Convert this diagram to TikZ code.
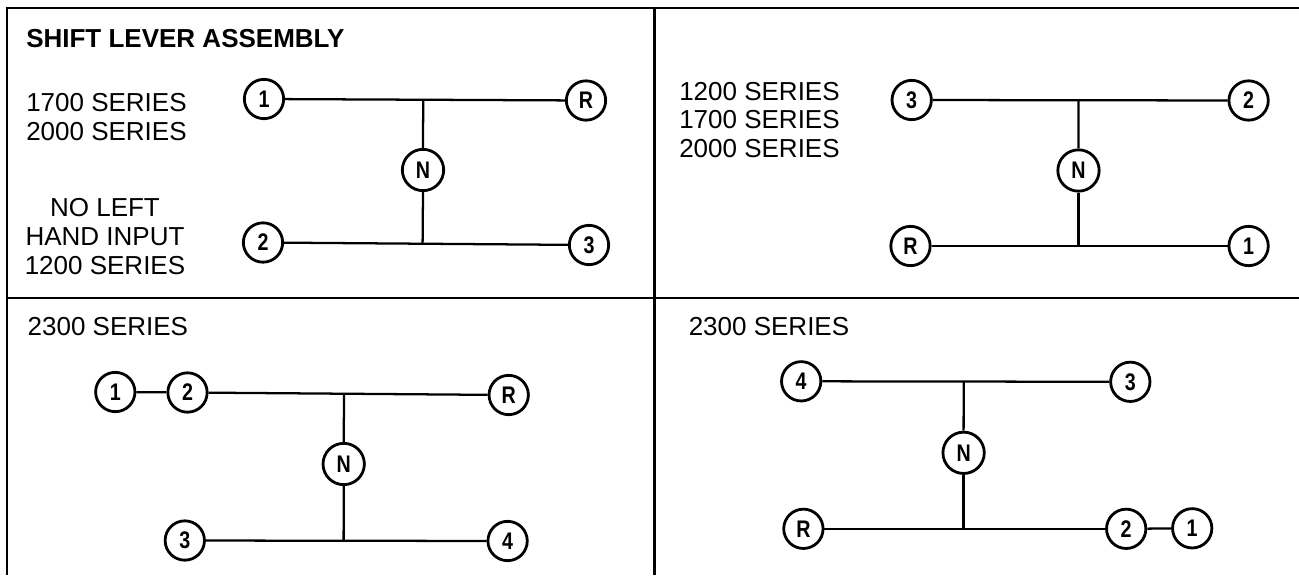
\documentclass[tikz,border=0pt]{standalone}
\usepackage{fontspec}
\usepackage{graphicx}
\setmainfont{Liberation Sans}
\usetikzlibrary{calc}
\newcommand{\clab}[1]{\scalebox{0.82}[1]{#1}}
\begin{document}
\begin{tikzpicture}[x=0.75pt,y=-0.75pt,
  gearpos/.style={circle,draw,line width=2.1pt,minimum size=29.5pt,inner sep=0pt,
    font=\fontsize{18pt}{20pt}\selectfont\bfseries},
  gearneut/.style={gearpos,minimum size=31pt},
  lbl/.style={anchor=base west,inner sep=0pt,font=\fontsize{19.5pt}{21.75pt}\selectfont},
  lblc/.style={lbl,anchor=base},
  ttl/.style={lbl,font=\fontsize{19.5pt}{21.75pt}\selectfont\bfseries},
  framing/.style={line width=1.9pt},
  gate/.style={line width=1.7pt}]
\useasboundingbox (0,0) rectangle (1299,575);
% frame
\coordinate (tl) at (7,8);
\coordinate (tr) at (1299,8);
\coordinate (bl) at (7,575);
\coordinate (mt) at (654.5,8);
\coordinate (mb) at (654.5,575);
\coordinate (hl) at (7,298);
\coordinate (hr) at (1299,298);
\draw[framing] (tr) -- (tl) -- (bl);
\draw[framing] (mt) -- (mb);
\draw[framing] (hl) -- (hr);

% panel 1
\node[ttl] (title) at (26,47.3) {SHIFT LEVER ASSEMBLY};
\node[lbl] (p1a) at (26,111) {1700 SERIES};
\node[lbl] (p1b) at (26,140) {2000 SERIES};
\node[lblc] (p1c) at (105,216.7) {NO LEFT};
\node[lblc] (p1d) at (105,245.7) {HAND INPUT};
\node[lblc] (p1e) at (105,274.3) {1200 SERIES};
\node[gearpos] (a1) at (264,99) {\clab{1}};
\node[gearpos] (aR) at (586,100.5) {\clab{R}};
\node[gearneut] (aN) at (423,170) {\clab{N}};
\node[gearpos] (a2) at (263,242.5) {\clab{2}};
\node[gearpos] (a3) at (589,245) {\clab{3}};
\draw[gate] (a1) -- (aR);
\draw[gate] (a2) -- (a3);
\draw[gate] (aN.north) -- ($(a1)!(aN.north)!(aR)$);
\draw[gate] (aN.south) -- ($(a2)!(aN.south)!(a3)$);

% panel 2
\node[lbl] (p2a) at (679,100) {1200 SERIES};
\node[lbl] (p2b) at (679,128.5) {1700 SERIES};
\node[lbl] (p2c) at (679,157) {2000 SERIES};
\node[gearpos] (b3) at (911.7,100) {\clab{3}};
\node[gearpos] (b2) at (1248.6,100.5) {\clab{2}};
\node[gearneut] (bN) at (1078.5,170.5) {\clab{N}};
\node[gearpos] (bR) at (910.5,246) {\clab{R}};
\node[gearpos] (b1) at (1248.6,246) {\clab{1}};
\draw[gate] (b3) -- (b2);
\draw[gate] (bR) -- (b1);
\draw[gate] (bN.north) -- ($(b3)!(bN.north)!(b2)$);
\draw[gate] (bN.south) -- ($(bR)!(bN.south)!(b1)$);

% panel 3
\node[lbl] (p3a) at (27.4,335.7) {2300 SERIES};
\node[gearpos] (c1) at (115.3,392) {\clab{1}};
\node[gearpos] (c2) at (187.5,392.5) {\clab{2}};
\node[gearpos] (cR) at (508.7,395) {\clab{R}};
\node[gearneut] (cN) at (343.7,464) {\clab{N}};
\node[gearpos] (c3) at (184.8,540.5) {\clab{3}};
\node[gearpos] (c4) at (507.6,541) {\clab{4}};
\draw[gate] (c1) -- (c2);
\draw[gate] (c2) -- (cR);
\draw[gate] (c3) -- (c4);
\draw[gate] (cN.north) -- ($(c2)!(cN.north)!(cR)$);
\draw[gate] (cN.south) -- ($(c3)!(cN.south)!(c4)$);

% panel 4
\node[lbl] (p4a) at (688.5,335.7) {2300 SERIES};
\node[gearpos] (d4) at (801.2,381.3) {\clab{4}};
\node[gearpos] (d3) at (1130.3,381.8) {\clab{3}};
\node[gearneut] (dN) at (963.6,452.8) {\clab{N}};
\node[gearpos] (dR) at (803.4,528.8) {\clab{R}};
\node[gearpos] (d2) at (1126.2,528.8) {\clab{2}};
\node[gearpos] (d1) at (1192.2,528.3) {\clab{1}};
\draw[gate] (d4) -- (d3);
\draw[gate] (dR) -- (d2);
\draw[gate] (d2) -- (d1);
\draw[gate] (dN.north) -- ($(d4)!(dN.north)!(d3)$);
\draw[gate] (dN.south) -- ($(dR)!(dN.south)!(d2)$);
\end{tikzpicture}
\end{document}
